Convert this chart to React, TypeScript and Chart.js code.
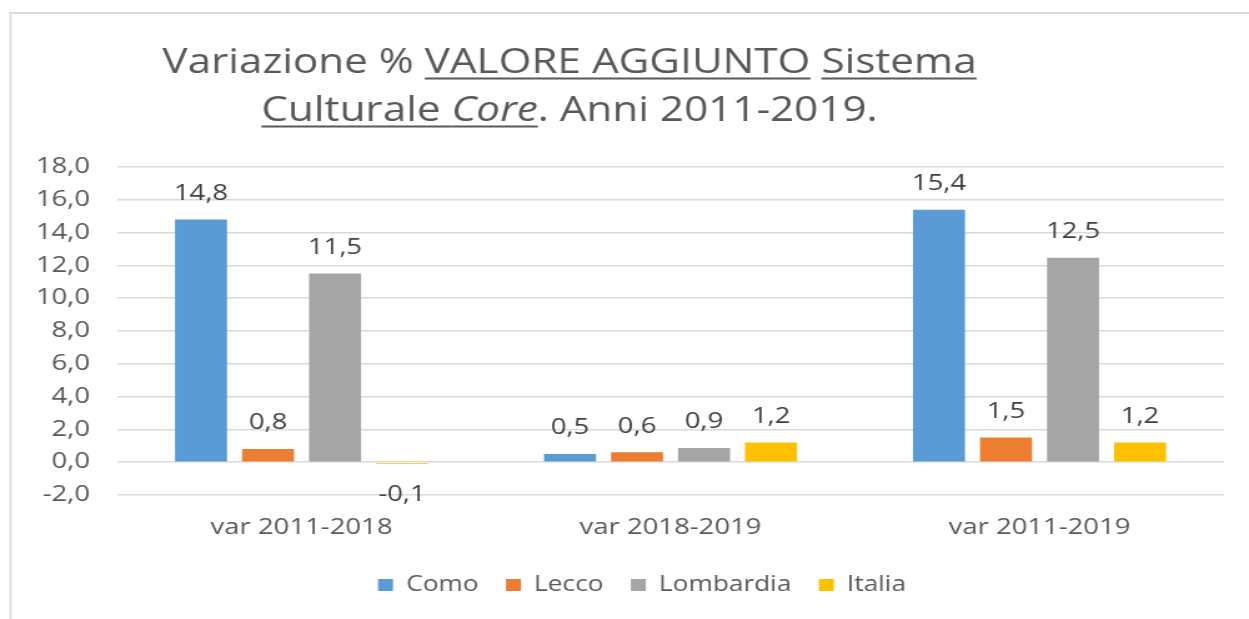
import { useEffect, useRef } from "react";
import { Chart, registerables } from "chart.js";

Chart.register(...registerables);

// ---- data ----
const categories = ["var 2011-2018", "var 2018-2019", "var 2011-2019"];
const seriesNames = ["Como", "Lecco", "Lombardia", "Italia"];
const como = [14.8, 0.5, 15.4];
const lecco = [0.8, 0.6, 1.5];
const lombardia = [11.5, 0.86, 12.46];
const italia = [-0.1, 1.2, 1.2];
const seriesColors = ["#5b9bd5", "#ed7d31", "#a5a5a5", "#ffc000"];
const yMin = -2;
const yMax = 18;
const yStep = 2;
const titleLine1 = [
  { text: "Variazione % ", u: false, i: false },
  { text: "VALORE AGGIUNTO", u: true, i: false },
  { text: " ", u: false, i: false },
  { text: "Sistema", u: true, i: false },
];
const titleLine2 = [
  { text: "Culturale ", u: true, i: false },
  { text: "Core", u: true, i: true },
  { text: ". Anni 2011-2019.", u: false, i: false },
];

// ---- layout / style ----
const SX = 1.249;
const W = 1000;
const H = 619;
const FONT = "'Open Sans', sans-serif";
const LEGEND_SHIFT = 17;
const fmt = (v: number) => v.toFixed(1).replace(".", ",");

const framePlugin = {
  id: "frame",
  beforeDraw(chart: any) {
    const ctx = chart.ctx;
    ctx.save();
    ctx.fillStyle = "#ffffff";
    ctx.fillRect(0, 0, chart.width, chart.height);
    ctx.fillStyle = "#d9d9d9";
    ctx.fillRect(7.6, 12, chart.width, 2);
    ctx.fillRect(7.6, 12, 1.6, chart.height);
    ctx.restore();
  },
};

const legendShiftPlugin = {
  id: "legendShift",
  afterLayout(chart: any) {
    if (chart.legend) {
      chart.legend.left += LEGEND_SHIFT;
      chart.legend.right += LEGEND_SHIFT;
    }
  },
};

const titlePlugin = {
  id: "richTitle",
  afterDraw(chart: any) {
    const ctx = chart.ctx;
    const size = 33.8;
    const cx = 456;
    const drawLine = (segs: any[], baseline: number) => {
      const widths = segs.map((s) => {
        ctx.font = `${s.i ? "italic " : ""}${size}px ${FONT}`;
        return ctx.measureText(s.text).width;
      });
      const total = widths.reduce((a: number, b: number) => a + b, 0);
      let x = cx - total / 2;
      segs.forEach((s, k) => {
        ctx.font = `${s.i ? "italic " : ""}${size}px ${FONT}`;
        ctx.fillStyle = "#595959";
        ctx.textAlign = "left";
        ctx.textBaseline = "alphabetic";
        ctx.fillText(s.text, x, baseline);
        if (s.u) ctx.fillRect(x, baseline + 4.5, widths[k], 2);
        x += widths[k];
      });
    };
    ctx.save();
    drawLine(titleLine1, 73);
    drawLine(titleLine2, 121);
    ctx.restore();
  },
};

const labelPlugin = {
  id: "valueLabels",
  afterDatasetsDraw(chart: any) {
    const ctx = chart.ctx;
    ctx.save();
    ctx.font = `22px ${FONT}`;
    ctx.fillStyle = "#404040";
    ctx.textAlign = "center";
    ctx.textBaseline = "middle";
    chart.data.datasets.forEach((ds: any, i: number) => {
      const meta = chart.getDatasetMeta(i);
      meta.data.forEach((bar: any, j: number) => {
        const v = ds.data[j];
        const y = v >= 0 ? bar.y - 26 : bar.y + 31;
        ctx.fillText(fmt(v), bar.x, y);
      });
    });
    ctx.restore();
  },
};

export default function App() {
  const ref = useRef<HTMLCanvasElement>(null);
  useEffect(() => {
    document.body.style.margin = "0";
    document.body.style.overflow = "hidden";
    const seriesValues = [como, lecco, lombardia, italia];
    const chart = new Chart(ref.current as HTMLCanvasElement, {
      type: "bar",
      data: {
        labels: categories,
        datasets: seriesNames.map((name, i) => ({
          label: name,
          data: seriesValues[i],
          backgroundColor: seriesColors[i],
          borderColor: seriesColors[i],
          borderWidth: 0,
          categoryPercentage: 0.7263,
          barPercentage: 0.776,
        })),
      },
      options: {
        responsive: false,
        animation: false,
        devicePixelRatio: 1,
        layout: { padding: { top: 167, left: 14, right: 20, bottom: 13.5 } },
        plugins: {
          title: { display: false },
          tooltip: { enabled: false },
          legend: {
            position: "bottom",
            labels: {
              boxWidth: 12,
              boxHeight: 12,
              padding: 22,
              color: "#595959",
              font: { size: 21, family: FONT },
            },
          },
        },
        scales: {
          x: {
            grid: { display: false, drawTicks: false },
            border: { display: false },
            ticks: { color: "#595959", font: { size: 22, family: FONT }, padding: 20, maxRotation: 0 },
            afterFit: (s: any) => {
              s.height = 57.5;
            },
          },
          y: {
            min: yMin,
            max: yMax,
            grid: { color: "#d9d9d9", lineWidth: 1.5, drawTicks: false },
            border: { display: false },
            ticks: {
              stepSize: yStep,
              color: "#595959",
              font: { size: 22, family: FONT },
              padding: 21.6,
              callback: (v: any) => fmt(Number(v)),
            },
            afterFit: (s: any) => {
              s.width = 79.7;
            },
          },
        },
      },
      plugins: [framePlugin, legendShiftPlugin, titlePlugin, labelPlugin],
    });
    return () => chart.destroy();
  }, []);
  return (
    <div style={{ width: W, height: H, transform: `scaleX(${SX})`, transformOrigin: "0 0" }}>
      <canvas ref={ref} width={W} height={H} style={{ width: W, height: H, display: "block" }} />
    </div>
  );
}
